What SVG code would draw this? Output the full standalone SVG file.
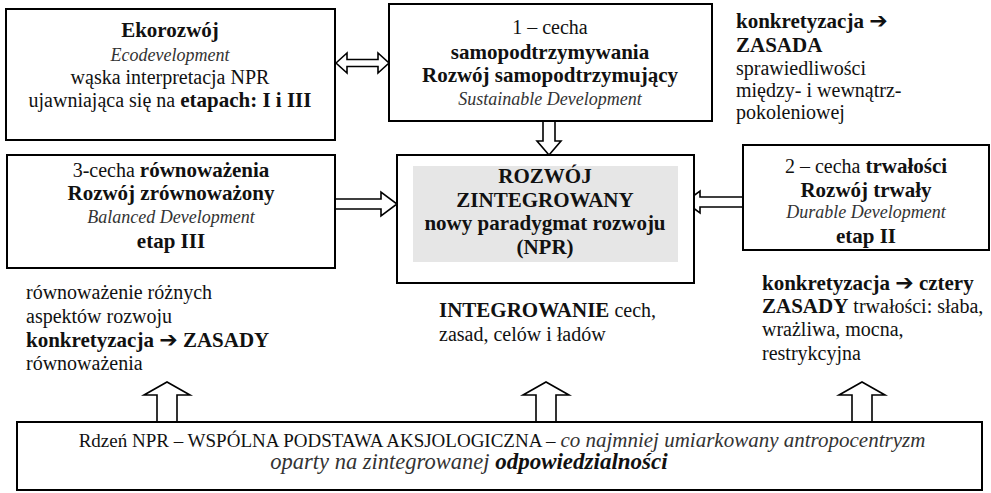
<svg xmlns="http://www.w3.org/2000/svg" width="991" height="493" viewBox="0 0 991 493">
<style>
text{font-family:'Liberation Serif','Times New Roman',Times,'DejaVu Serif',serif;font-size:20px;fill:#111}
.c{text-anchor:middle}
.b{font-weight:bold;font-size:21px}
.i{font-style:italic;fill:#333;font-size:18px}
.bi{font-style:italic;font-weight:bold;font-size:23px}
.ib{font-style:italic;fill:#333;font-size:21px}
.ar{font-family:'DejaVu Sans',sans-serif;font-weight:bold;font-size:22px}
.box{fill:#fff;stroke:#000;stroke-width:2}
.arr{fill:#fff;stroke:#000;stroke-width:1.6;stroke-linejoin:miter}
</style>
<rect width="991" height="493" fill="#fff"/>
<g id="connectors">
<polygon class="arr" points="336,63 347,53 347,59.5 378,59.5 378,53 389,63 378,73 378,66.5 347,66.5 347,73"/>
<polygon class="arr" points="543,121 555,121 555,141 561,141 549,155 537,141 543,141"/>
<polygon class="arr" points="335,199 381,199 381,192 397,204 381,216 381,209 335,209"/>
<polygon class="arr" points="743,197 700,197 700,191 685,202 700,213 700,207 743,207"/>
<polygon class="arr" points="157,422 157,395 144,395 167,382 190,395 177,395 177,422"/>
<polygon class="arr" points="536,422 536,395 523,395 546,382 569,395 556,395 556,422"/>
<polygon class="arr" points="852,422 852,395 839,395 862,382 885,395 872,395 872,422"/>
</g>
<g id="ekorozwoj">
<rect class="box" x="6" y="9" width="329" height="131"/>
<text class="c b" x="170" y="37">Ekorozwój</text>
<text class="c i" x="170" y="61">Ecodevelopment</text>
<text class="c" x="170" y="84">wąska interpretacja NPR</text>
<text class="c" x="170" y="107">ujawniająca się na <tspan class="b">etapach: I i III</tspan></text>
</g>
<g id="cecha1">
<rect class="box" x="389" y="4" width="323" height="117"/>
<text class="c" x="550" y="34">1 – cecha</text>
<text class="c b" x="550" y="59">samopodtrzymywania</text>
<text class="c b" x="550" y="82">Rozwój samopodtrzymujący</text>
<text class="c i" x="550" y="105">Sustainable Development</text>
</g>
<g id="zasada-sprawiedliwosci">
<text x="736" y="28"><tspan class="b">konkretyzacja </tspan><tspan class="ar">➔</tspan></text>
<text class="b" x="736" y="52">ZASADA</text>
<text x="736" y="75">sprawiedliwości</text>
<text x="736" y="97">między- i wewnątrz-</text>
<text x="736" y="119">pokoleniowej</text>
</g>
<g id="cecha3">
<rect class="box" x="7" y="155" width="328" height="113"/>
<text class="c" x="171" y="177">3-cecha <tspan class="b">równoważenia</tspan></text>
<text class="c b" x="171" y="200">Rozwój zrównoważony</text>
<text class="c i" x="171" y="223">Balanced Development</text>
<text class="c b" x="171" y="248">etap III</text>
</g>
<g id="rozwoj-zintegrowany">
<rect class="box" x="397" y="155" width="297" height="128"/>
<rect x="413" y="166" width="265" height="96" fill="#e6e6e6"/>
<text class="c b" x="545" y="183">ROZWÓJ</text>
<text class="c b" x="545" y="207">ZINTEGROWANY</text>
<text class="c b" x="545" y="230">nowy paradygmat rozwoju</text>
<text class="c b" x="545" y="254">(NPR)</text>
</g>
<g id="cecha2">
<rect class="box" x="743" y="145" width="246" height="105"/>
<text class="c" x="866" y="173">2 – cecha <tspan class="b">trwałości</tspan></text>
<text class="c b" x="866" y="197">Rozwój trwały</text>
<text class="c i" x="866" y="218">Durable Development</text>
<text class="c b" x="866" y="243">etap II</text>
</g>
<g id="zasady-rownowazenia">
<text x="26" y="299">równoważenie różnych</text>
<text x="26" y="323">aspektów rozwoju</text>
<text x="26" y="347"><tspan class="b">konkretyzacja </tspan><tspan class="ar">➔</tspan><tspan class="b"> ZASADY</tspan></text>
<text x="26" y="370">równoważenia</text>
</g>
<g id="integrowanie">
<text x="439" y="317"><tspan class="b">INTEGROWANIE</tspan> cech,</text>
<text x="439" y="341">zasad, celów i ładów</text>
</g>
<g id="zasady-trwalosci">
<text x="762" y="290"><tspan class="b">konkretyzacja </tspan><tspan class="ar">➔</tspan><tspan class="b"> cztery</tspan></text>
<text x="762" y="313"><tspan class="b">ZASADY</tspan> trwałości: słaba,</text>
<text x="762" y="336">wrażliwa, mocna,</text>
<text x="762" y="360">restrykcyjna</text>
</g>
<g id="rdzen">
<rect class="box" x="17" y="422" width="965" height="68"/>
<text class="c" x="502" y="447" style="font-size:19px">Rdzeń NPR – WSPÓLNA PODSTAWA AKSJOLOGICZNA – <tspan class="ib">co najmniej umiarkowany antropocentryzm</tspan></text>
<text class="c" x="469" y="469"><tspan class="ib" style="font-size:22.5px">oparty na zintegrowanej </tspan><tspan class="bi">odpowiedzialności</tspan></text>
</g>
</svg>
